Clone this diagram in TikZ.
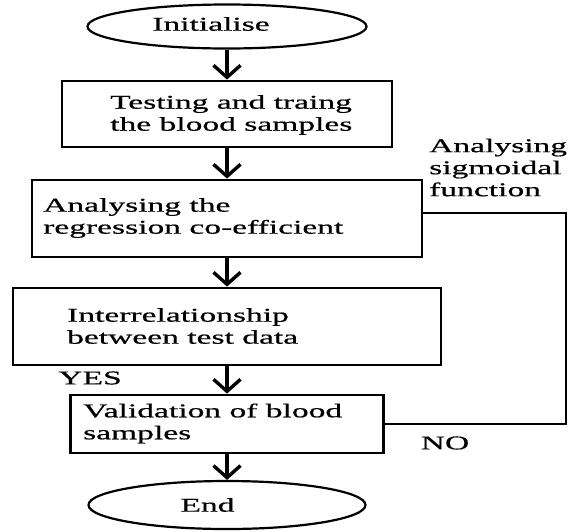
\documentclass[tikz,border=0pt]{standalone}
\usepackage{fontspec}
\setmainfont[FakeStretch=1.72, FakeBold=0.6]{Liberation Serif}
\usetikzlibrary{shapes.geometric,arrows.meta}

\begin{document}
\begin{tikzpicture}[x=1pt, y=-1pt,
  box/.style={rectangle, draw, line width=2.8pt},
  term/.style={ellipse, draw, line width=2.2pt},
  txt/.style={font=\fontsize{19.5}{22}\selectfont, align=left, inner sep=0pt},
  flow/.style={-{Straight Barb[length=12pt, width=27pt]}, line width=3.4pt},
  back/.style={line width=1.6pt}]
  \useasboundingbox (0,0) rectangle (569,531);
  % Nodes
  \node (init) [term, minimum width=279, minimum height=44] at (227, 26.5) {};
  \node (test) [box, minimum width=330, minimum height=66] at (227, 114) {};
  \node (reg) [box, minimum width=390, minimum height=77] at (227, 218.5) {};
  \node (inter) [box, minimum width=428, minimum height=77] at (227, 326.5) {};
  \node (valid) [box, minimum width=313, minimum height=58] at (227, 424) {};
  \node (end) [term, minimum width=277, minimum height=48] at (227, 505) {};
  % Texts
  \node (init-txt) [txt] at (211, 24) {Initialise};
  \node (test-txt) [txt, anchor=west] at (110, 115) {Testing and traing\\the blood samples};
  \node (reg-txt) [txt, anchor=west] at (43, 218) {Analysing the\\regression co-efficient};
  \node (inter-txt) [txt, anchor=west] at (67, 326) {Interrelationship\\between test data};
  \node (valid-txt) [txt, anchor=west] at (83, 423.5) {Validation of blood\\samples};
  \node (end-txt) [txt] at (207.5, 505) {End};
  \node (sigmoid) [txt, anchor=west] at (429, 167.5) {Analysing\\sigmoidal\\function};
  \node (yes) [txt] at (90, 378) {YES};
  \node (no) [txt] at (445, 443) {NO};
  % Arrows
  \draw[flow] (init) -- (test);
  \draw[flow] (test) -- (reg);
  \draw[flow] (reg) -- (inter);
  \draw[flow] (inter) -- (valid);
  \draw[flow] (valid) -- (end);
  % Loop back
  \coordinate (turn) at (566, 424);
  \draw[back] (valid.east) -- (turn) |- ([yshift=5.5pt]reg.east);
\end{tikzpicture}
\end{document}
